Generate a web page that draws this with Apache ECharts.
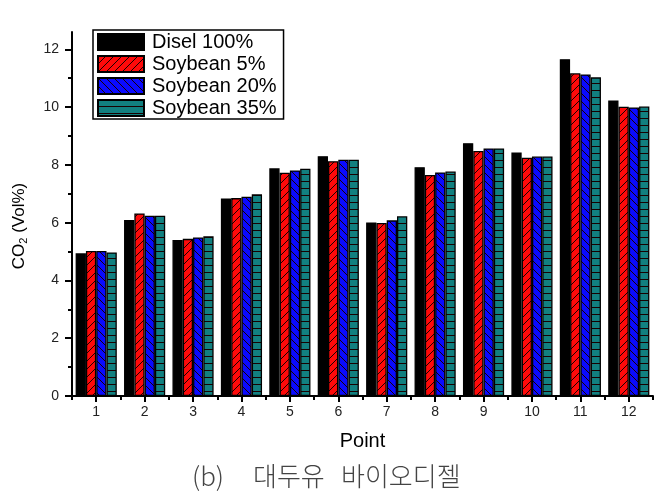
<!DOCTYPE html>
<html>
<head>
<meta charset="utf-8">
<script src="https://cdn.jsdelivr.net/npm/echarts@6/dist/echarts.min.js"></script>
<style>html,body{margin:0;padding:0;background:#fff}#c{width:663px;height:501px}</style>
</head>
<body>
<div id="c"></div>
<script>
const categories = ['1','2','3','4','5','6','7','8','9','10','11','12'];
const seriesNames = ['Disel 100%', 'Soybean 5%', 'Soybean 20%', 'Soybean 35%'];
const disel100 = [4.94, 6.09, 5.40, 6.84, 7.88, 8.30, 6.01, 7.92, 8.75, 8.43, 11.66, 10.23];
const soybean5 = [5.02, 6.32, 5.44, 6.85, 7.73, 8.13, 5.99, 7.65, 8.48, 8.25, 11.17, 10.01];
const soybean20 = [5.02, 6.24, 5.49, 6.90, 7.81, 8.18, 6.08, 7.74, 8.57, 8.29, 11.13, 9.99];
const soybean35 = [4.97, 6.24, 5.53, 6.98, 7.87, 8.18, 6.22, 7.77, 8.57, 8.29, 11.03, 10.02];
const yTicks = [0, 2, 4, 6, 8, 10, 12];
const yMinorTicks = [1, 3, 5, 7, 9, 11];

function makePattern(bg, kind) {
  const c = document.createElement('canvas');
  const s = kind === 'h' ? 7 : 8;
  c.width = s; c.height = s;
  const ctx = c.getContext('2d');
  ctx.fillStyle = bg;
  ctx.fillRect(0, 0, s, s);
  ctx.strokeStyle = '#1a0000';
  ctx.lineWidth = 1;
  ctx.beginPath();
  if (kind === '/') {
    ctx.moveTo(-2, s + 2); ctx.lineTo(s + 2, -2);
    ctx.moveTo(-2 - s, s + 2); ctx.lineTo(2, -2);
    ctx.moveTo(s - 2, 2 * s + 2); ctx.lineTo(2 * s + 2, s - 2);
  } else if (kind === '\\') {
    ctx.moveTo(-2, -2); ctx.lineTo(s + 2, s + 2);
    ctx.moveTo(-2 - s, -2); ctx.lineTo(2, s + 2);
    ctx.moveTo(s - 2, -2); ctx.lineTo(2 * s + 2, s + 2);
  } else {
    ctx.moveTo(0, s - 0.5); ctx.lineTo(s, s - 0.5);
  }
  ctx.stroke();
  return { image: c, repeat: 'repeat' };
}

const fills = ['#000000', makePattern('#ff0a0a', '/'), makePattern('#0a0aff', '\\'), makePattern('#128080', 'h')];
const dataSets = [disel100, soybean5, soybean20, soybean35];

const chart = echarts.init(document.getElementById('c'), null, { renderer: 'canvas' });
const font = 'Liberation Sans, Arial, sans-serif';
const capFont = '300 26px "Noto Sans CJK KR", sans-serif';

chart.setOption({
  backgroundColor: '#ffffff',
  animation: false,
  grid: { left: 72, right: 10, top: 32, bottom: 105, containLabel: false },
  legend: {
    orient: 'vertical',
    left: 93, top: 30,
    data: seriesNames,
    icon: 'rect',
    itemWidth: 46, itemHeight: 16, itemGap: 2,
    borderColor: '#000', borderWidth: 1.5,
    padding: [2, 7, 1, 4],
    backgroundColor: '#fff',
    textStyle: { fontSize: 20, fontFamily: font, color: '#000', padding: [0, 0, 0, 3] }
  },
  xAxis: [{
    type: 'category',
    data: categories,
    name: 'Point',
    nameLocation: 'middle',
    nameGap: 35,
    nameTextStyle: { fontSize: 20, fontFamily: font, color: '#000' },
    axisLine: { show: true, lineStyle: { color: '#000', width: 2 } },
    axisTick: { show: true, alignWithLabel: true, length: 6, lineStyle: { color: '#000', width: 2 } },
    axisLabel: { fontSize: 14, fontFamily: font, color: '#222', margin: 9 },
    splitLine: { show: false }
  }, {
    type: 'category',
    data: categories,
    position: 'bottom',
    axisLine: { show: false },
    axisTick: { show: true, alignWithLabel: false, length: 4, lineStyle: { color: '#000', width: 2 } },
    axisLabel: { show: false },
    splitLine: { show: false }
  }],
  yAxis: [{
    type: 'value',
    min: 0, max: 12.6,
    name: '{a|CO}{b|2}{a| (Vol%)}',
    nameLocation: 'middle',
    nameRotate: 90,
    nameGap: 42,
    nameTextStyle: {
      fontFamily: font, color: '#000',
      padding: [0, 24, 0, 0],
      rich: {
        a: { fontSize: 17, fontFamily: font, color: '#000', lineHeight: 22 },
        b: { fontSize: 11, fontFamily: font, color: '#000', lineHeight: 22, padding: [10, 0, 0, 0] }
      }
    },
    axisLine: { show: true, lineStyle: { color: '#000', width: 2 } },
    axisTick: { show: true, length: 7, customValues: yTicks, lineStyle: { color: '#000', width: 2 } },
    axisLabel: { fontSize: 14, fontFamily: font, color: '#222', margin: 13, customValues: yTicks },
    splitLine: { show: false }
  }, {
    type: 'value',
    min: 0, max: 12.6,
    position: 'left',
    axisLine: { show: false },
    axisTick: { show: true, length: 4, customValues: yMinorTicks, lineStyle: { color: '#000', width: 2 } },
    axisLabel: { show: false },
    splitLine: { show: false }
  }],
  series: seriesNames.map((name, i) => ({
    name: name,
    type: 'bar',
    xAxisIndex: 0,
    yAxisIndex: 0,
    data: dataSets[i],
    barGap: '0%',
    barCategoryGap: '15%',
    itemStyle: { color: fills[i], borderColor: '#000', borderWidth: 1.3 },
    emphasis: { disabled: true }
  })),
  graphic: [
    { type: 'text', left: 192, top: 463, style: { text: '(b)', font: capFont, fill: '#444' } },
    { type: 'text', left: 253, top: 463, style: { text: '대두유', font: capFont, fill: '#444' } },
    { type: 'text', left: 341, top: 463, style: { text: '바이오디젤', font: capFont, fill: '#444' } }
  ]
});
</script>
</body>
</html>
